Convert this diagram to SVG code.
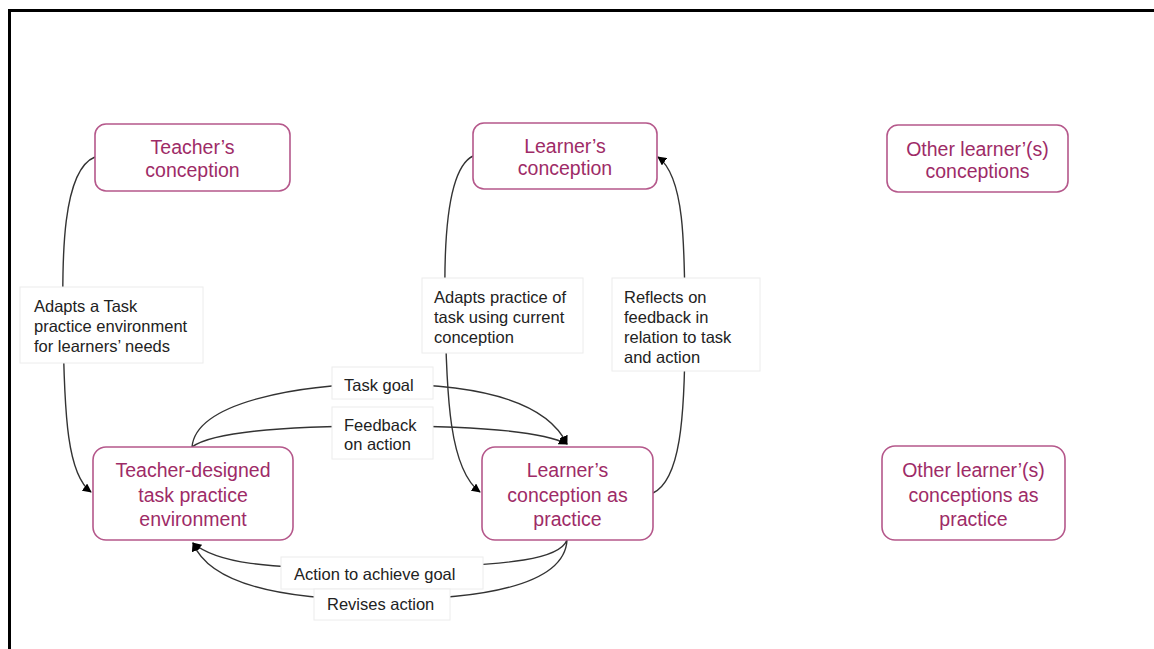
<svg xmlns="http://www.w3.org/2000/svg" width="1154" height="649" viewBox="0 0 1154 649">
<defs>
<style>
.node rect{fill:#fff;stroke:#b5588b;stroke-width:1.6}
.node text{font-family:"Liberation Sans",Arial,sans-serif;font-size:19.5px;fill:#9e2b67;text-anchor:middle}
.lbl rect{fill:#fff;stroke:#ececec;stroke-width:1}
.lbl text{font-family:"Liberation Sans",Arial,sans-serif;font-size:16.5px;fill:#222}
.conn path{fill:none;stroke:#333;stroke-width:1.4}
</style>
<marker id="ah" viewBox="0 0 10 10" refX="9" refY="5" markerWidth="9" markerHeight="9" markerUnits="userSpaceOnUse" orient="auto">
<path d="M0,0 L10,5 L0,10 Z" fill="#000"/>
</marker>
</defs>
<rect width="1154" height="649" fill="#fff"/>
<path d="M9.5,649 V10.5 H1154" fill="none" stroke="#000" stroke-width="3"/>

<g id="connectors" class="conn">
<path d="M95,157 C62,170 62,260 63,320 C64,420 68,475 91,492" marker-end="url(#ah)"/>
<path d="M473,156 C448,168 444,240 445,300 C446,400 450,470 480,492" marker-end="url(#ah)"/>
<path d="M653,493 C680,480 685,420 685,330 C685,240 684,176 658,157" marker-end="url(#ah)"/>
<path d="M192,447 C196,402 300,384 383,384 C470,384 545,398 567,444" marker-end="url(#ah)"/>
<path d="M192,447 C215,430 300,426 383,426 C470,426 540,430 567,444" marker-end="url(#ah)"/>
<path d="M567,540 C560,558 520,566 383,568 C262,570 215,562 193,543" marker-end="url(#ah)"/>
<path d="M567,540 C565,580 500,599 383,600 C270,600 208,580 193,543" marker-end="url(#ah)"/>
</g>

<g id="label-adapts-task" class="lbl">
<rect x="20" y="287" width="183" height="76"/>
<text x="34" y="312">Adapts a Task</text>
<text x="34" y="332">practice environment</text>
<text x="34" y="352">for learners’ needs</text>
</g>
<g id="label-adapts-practice" class="lbl">
<rect x="422" y="278" width="161" height="75"/>
<text x="434" y="303">Adapts practice of</text>
<text x="434" y="323">task using current</text>
<text x="434" y="343">conception</text>
</g>
<g id="label-reflects" class="lbl">
<rect x="612" y="278" width="148" height="93"/>
<text x="624" y="303">Reflects on</text>
<text x="624" y="323">feedback in</text>
<text x="624" y="343">relation to task</text>
<text x="624" y="363">and action</text>
</g>
<g id="label-task-goal" class="lbl">
<rect x="332" y="367" width="101" height="32"/>
<text x="344" y="391">Task goal</text>
</g>
<g id="label-feedback" class="lbl">
<rect x="332" y="407" width="101" height="52"/>
<text x="344" y="431">Feedback</text>
<text x="344" y="450">on action</text>
</g>
<g id="label-action" class="lbl">
<rect x="281" y="557" width="202" height="32"/>
<text x="294" y="580">Action to achieve goal</text>
</g>
<g id="label-revises" class="lbl">
<rect x="314" y="589" width="136" height="31"/>
<text x="327" y="610">Revises action</text>
</g>

<g id="node-teacher-conception" class="node">
<rect x="95" y="124" width="195" height="67" rx="11"/>
<text x="192.5" y="154">Teacher’s</text>
<text x="192.5" y="177">conception</text>
</g>
<g id="node-learner-conception" class="node">
<rect x="473" y="123" width="184" height="66" rx="11"/>
<text x="565" y="153">Learner’s</text>
<text x="565" y="175">conception</text>
</g>
<g id="node-other-conceptions" class="node">
<rect x="887" y="125" width="181" height="67" rx="11"/>
<text x="977.5" y="156">Other learner’(s)</text>
<text x="977.5" y="178">conceptions</text>
</g>
<g id="node-teacher-designed" class="node">
<rect x="93" y="447" width="200" height="93" rx="13"/>
<text x="193" y="477">Teacher-designed</text>
<text x="193" y="502">task practice</text>
<text x="193" y="526">environment</text>
</g>
<g id="node-learner-practice" class="node">
<rect x="482" y="447" width="171" height="93" rx="13"/>
<text x="567.5" y="477">Learner’s</text>
<text x="567.5" y="502">conception as</text>
<text x="567.5" y="526">practice</text>
</g>
<g id="node-other-practice" class="node">
<rect x="882" y="446" width="183" height="94" rx="13"/>
<text x="973.5" y="477">Other learner’(s)</text>
<text x="973.5" y="502">conceptions as</text>
<text x="973.5" y="526">practice</text>
</g>
</svg>
